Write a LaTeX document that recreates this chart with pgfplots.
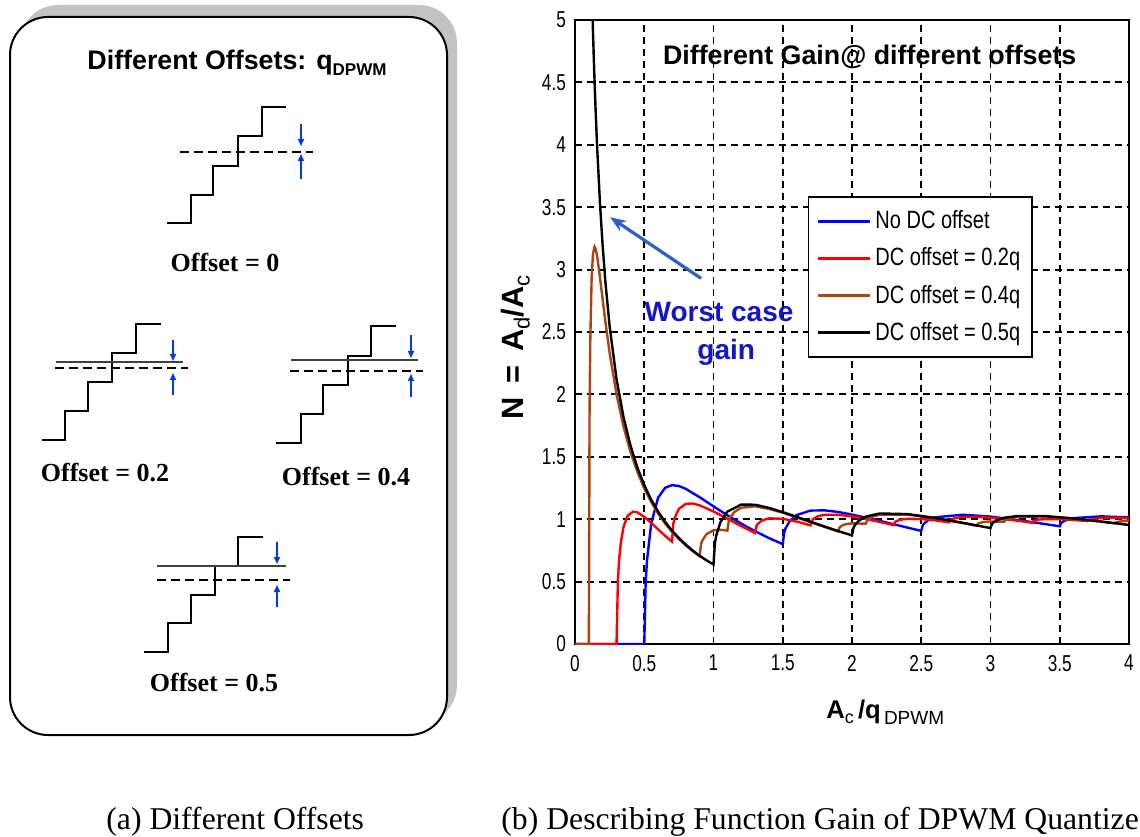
\documentclass[border=0pt]{standalone}
\usepackage{pgfplots}
\pgfplotsset{compat=1.18}
\usepackage{fontspec}
\setmainfont{Liberation Serif}
\setsansfont{Liberation Sans}
\newfontfamily\hv{Liberation Sans}
\newfontfamily\ticksfont[FakeStretch=0.75]{Liberation Sans}
\newfontfamily\legfont[FakeStretch=0.8]{Liberation Sans}
\usetikzlibrary{arrows.meta}
\definecolor{mybrown}{RGB}{170,68,17}
\definecolor{wcblue}{RGB}{20,20,200}
\definecolor{arrblue}{RGB}{45,95,205}
\definecolor{stairblue}{RGB}{0,60,230}
\definecolor{shadowgray}{RGB}{195,195,195}

\pgfplotstableread{
A N
0 0
0.5 0
0.51 0.492
0.52 0.672
0.55 0.964
0.6 1.173
0.65 1.251
0.7 1.273
0.75 1.266
0.8 1.243
0.9 1.176
1.0 1.103
1.1 1.031
1.2 0.965
1.3 0.904
1.4 0.849
1.5 0.800
1.51 0.892
1.52 0.927
1.55 0.984
1.6 1.033
1.7 1.069
1.8 1.071
1.9 1.058
2.0 1.037
2.2 0.987
2.4 0.933
2.5 0.906
2.51 0.949
2.52 0.965
2.55 0.992
2.6 1.015
2.8 1.036
3.0 1.021
3.2 0.993
3.4 0.960
3.5 0.943
3.51 0.969
3.52 0.978
3.55 0.995
3.6 1.009
3.8 1.023
4.0 1.014
}\blue

\pgfplotstableread{
A N
0 0
0.3 0
0.31 0.518
0.32 0.692
0.33 0.804
0.35 0.937
0.38 1.028
0.42 1.061
0.45 1.055
0.5 1.019
0.55 0.970
0.6 0.919
0.65 0.868
0.7 0.821
0.71 0.963
0.72 1.011
0.75 1.083
0.8 1.123
0.85 1.126
0.9 1.111
1.0 1.062
1.1 1.004
1.2 0.945
1.3 0.889
1.31 0.944
1.32 0.962
1.35 0.990
1.4 1.007
1.5 1.003
1.6 0.981
1.7 0.951
1.71 0.988
1.72 1.001
1.75 1.022
1.8 1.036
1.9 1.036
2.0 1.022
2.1 1.002
2.2 0.978
2.3 0.953
2.31 0.976
2.32 0.984
2.35 0.996
2.4 1.003
2.5 1.001
2.6 0.991
2.7 0.975
2.71 0.993
2.72 0.998
2.75 1.011
2.8 1.018
2.9 1.019
3.0 1.012
3.1 1.001
3.2 0.987
3.3 0.972
3.31 0.985
3.32 0.989
3.35 0.997
3.4 1.001
3.5 1.001
3.6 0.994
3.7 0.985
3.71 0.995
3.72 0.998
3.75 1.002
3.8 1.011
3.9 1.012
4.0 1.008
}\red

\pgfplotstableread{
A N
0 0
0.1 0
0.105 1.849
0.11 2.411
0.12 2.933
0.13 3.129
0.1414 3.183
0.15 3.163
0.16 3.106
0.18 2.941
0.2 2.757
0.22 2.578
0.25 2.333
0.3 2.001
0.35 1.743
0.4 1.541
0.45 1.380
0.5 1.247
0.55 1.138
0.6 1.046
0.65 0.967
0.7 0.900
0.75 0.841
0.8 0.790
0.85 0.744
0.9 0.703
0.91 0.799
0.92 0.831
0.95 0.881
1.0 0.911
1.05 0.915
1.1 0.909
1.11 0.984
1.12 1.011
1.15 1.058
1.2 1.092
1.3 1.103
1.4 1.083
1.5 1.052
1.6 1.015
1.7 0.977
1.8 0.939
1.9 0.903
1.91 0.933
1.92 0.944
1.95 0.959
2.0 0.967
2.1 0.964
2.11 0.992
2.12 1.003
2.15 1.021
2.2 1.036
2.4 1.037
2.6 1.008
2.8 0.969
2.9 0.948
2.91 0.964
2.92 0.969
2.95 0.978
3.0 0.982
3.1 0.980
3.11 0.994
3.12 0.998
3.15 1.012
3.2 1.020
3.4 1.022
3.6 1.005
3.8 0.980
3.9 0.967
3.91 0.977
3.92 0.979
3.95 0.983
4.0 0.989
}\brown

\pgfplotstableread{
A N
0.125 5.093
0.13 4.897
0.14 4.547
0.15 4.244
0.16 3.979
0.18 3.537
0.2 3.183
0.22 2.894
0.25 2.546
0.3 2.122
0.35 1.819
0.4 1.592
0.45 1.415
0.5 1.273
0.55 1.157
0.6 1.061
0.65 0.979
0.7 0.909
0.75 0.849
0.8 0.796
0.85 0.749
0.9 0.707
0.95 0.670
1.0 0.637
1.01 0.807
1.02 0.870
1.05 0.976
1.1 1.061
1.2 1.117
1.3 1.116
1.4 1.091
1.5 1.057
1.6 1.019
1.7 0.980
1.8 0.942
1.9 0.905
2.0 0.870
2.01 0.929
2.02 0.951
2.05 0.989
2.1 1.021
2.2 1.046
2.4 1.041
2.6 1.010
2.8 0.971
3.0 0.929
3.01 0.961
3.02 0.973
3.05 0.993
3.1 1.012
3.2 1.026
3.4 1.024
3.6 1.006
3.8 0.981
4.0 0.954
}\black

\begin{document}
\begin{tikzpicture}[x=0.5pt,y=0.5pt]
\useasboundingbox (0,0) rectangle (1140,836);
\clip (0,0) rectangle (1140,836);

% ---------- panel (a) ----------
\fill[shadowgray, rounded corners=19pt] (20,113) rectangle (457,831);
\draw[fill=white, line width=1pt, rounded corners=19pt] (10,101) rectangle (447,819);

\node[font=\hv\bfseries\fontsize{13.4}{15}\selectfont, anchor=center] at (237,773)
  {Different Offsets: q\raisebox{-0.45ex}{\fontsize{8.5}{9}\selectfont DPWM}};

\tikzset{stair/.style={line width=1.4pt, line join=miter, line cap=butt},
  dashl/.style={line width=1.1pt, dash pattern=on 4.5pt off 2.5pt},
  solidl/.style={line width=1.1pt, black!75},
  barr/.style={stairblue, line width=0.8pt, -{Triangle[length=3.5pt,width=3pt]}}}

% offset 0
\draw[stair] (167,613)--(191,613)--(191,641)--(213,641)--(213,670)--(238,670)--(238,700)--(262,700)--(262,729)--(286,729);
\draw[dashl] (180,684)--(313,684);
\draw[barr] (301,712)--(301,690);
\draw[barr] (301,657)--(301,682);
\node[font=\bfseries\fontsize{13}{15}\selectfont] at (225,574) {Offset = 0};

% offset 0.2
\draw[stair] (42,396)--(65,396)--(65,425)--(88,425)--(88,454)--(112,454)--(112,483)--(136,483)--(136,512)--(161,512);
\draw[solidl] (56,474)--(183,474);
\draw[dashl] (55,468)--(188,468);
\draw[barr] (173,496)--(173,475);
\draw[barr] (173,441)--(173,463);
\node[font=\bfseries\fontsize{13}{15}\selectfont] at (105,363) {Offset = 0.2};

% offset 0.4
\draw[stair] (276,393)--(301,393)--(301,422)--(323,422)--(323,451)--(348,451)--(348,480)--(371,480)--(371,510)--(396,510);
\draw[solidl] (291,476)--(418,476);
\draw[dashl] (290,465)--(423,465);
\draw[barr] (411,501)--(411,478);
\draw[barr] (411,439)--(411,462);
\node[font=\bfseries\fontsize{13}{15}\selectfont] at (346,359) {Offset = 0.4};

% offset 0.5
\draw[stair] (144,184)--(168,184)--(168,213)--(191,213)--(191,241)--(215,241)--(215,270)--(238,270)--(238,299)--(263,299);
\draw[solidl] (157,270)--(286,270);
\draw[dashl] (157,256)--(290,256);
\draw[barr] (277,294)--(277,272);
\draw[barr] (277,229)--(277,251);
\node[font=\bfseries\fontsize{13}{15}\selectfont] at (214,153) {Offset = 0.5};

% captions
\node[font=\fontsize{15.85}{18}\selectfont, anchor=base west, inner sep=0pt] at (106,7) {(a) Different Offsets};
\node[font=\fontsize{15.85}{18}\selectfont, anchor=base west, inner sep=0pt] at (501,7) {(b) Describing Function Gain of DPWM Quantize};

% ---------- panel (b) ----------
\begin{axis}[
  at={(287.5pt,96pt)}, anchor=south west,
  scale only axis, width=277pt, height=312pt,
  xmin=0, xmax=4, ymin=0, ymax=5,
  xtick={0,0.5,1,1.5,2,2.5,3,3.5,4},
  ytick={0,0.5,1,1.5,2,2.5,3,3.5,4,4.5,5},
  grid=major,
  grid style={black, line width=0.95pt, dash pattern=on 3.5pt off 2.5pt},
  axis line style={line width=1pt},
  major tick length=0pt,
  /pgf/number format/assume math mode=true,
  tick label style={font=\ticksfont\fontsize{11.5}{12}\selectfont},
  xticklabel style={yshift=-2pt},
  yticklabel style={xshift=-1pt},
  xlabel={\hv\bfseries\fontsize{12.8}{14}\selectfont A\raisebox{-0.4ex}{\mdseries\fontsize{9}{10}\selectfont c}\,/q\raisebox{-0.45ex}{\mdseries\fontsize{9.5}{10}\selectfont\,DPWM}},
  xlabel style={at={(axis description cs:0.56,-0.109)}, anchor=center},
  ylabel={\hv\bfseries\fontsize{15.4}{17}\selectfont N\ \,=\ \,A\raisebox{-0.35ex}{\mdseries\fontsize{11}{12}\selectfont d}/A\raisebox{-0.35ex}{\mdseries\fontsize{11}{12}\selectfont c}},
  ylabel style={at={(axis description cs:-0.107,0.475)}, anchor=center},
  every axis plot/.append style={line width=1.2pt},
  legend style={at={(rel axis cs:0.42,0.718)}, anchor=north west, draw=black,
    line width=0.8pt, fill=white, font=\legfont\fontsize{12.5}{13}\selectfont,
    row sep=4pt, inner xsep=4pt, inner ysep=5pt},
  legend cell align=left,
  legend image code/.code={\draw[#1, line width=1.5pt] (0pt,0pt) -- (26pt,0pt);},
]
\addplot[blue, no marks] table[x=A, y=N] {\blue};
\addlegendentry{No DC offset}
\addplot[red, no marks] table[x=A, y=N] {\red};
\addlegendentry{DC offset = 0.2q}
\addplot[mybrown, no marks] table[x=A, y=N] {\brown};
\addlegendentry{DC offset = 0.4q}
\addplot[black, no marks] table[x=A, y=N] {\black};
\addlegendentry{DC offset = 0.5q}

\node[font=\hv\bfseries\fontsize{13.4}{15}\selectfont, anchor=center] at (rel axis cs:0.532,0.941) {Different Gain@ different offsets};
\node[font=\hv\bfseries\fontsize{14}{16}\selectfont, text=wcblue, anchor=center] at (rel axis cs:0.26,0.532) {Worst case};
\node[font=\hv\bfseries\fontsize{14}{16}\selectfont, text=wcblue, anchor=center] at (rel axis cs:0.273,0.468) {gain};
\draw[arrblue, line width=1.6pt, -{Stealth[length=8pt,width=6pt]}] (axis cs:0.91,2.93) -- (axis cs:0.253,3.42);
\end{axis}
\end{tikzpicture}
\end{document}
